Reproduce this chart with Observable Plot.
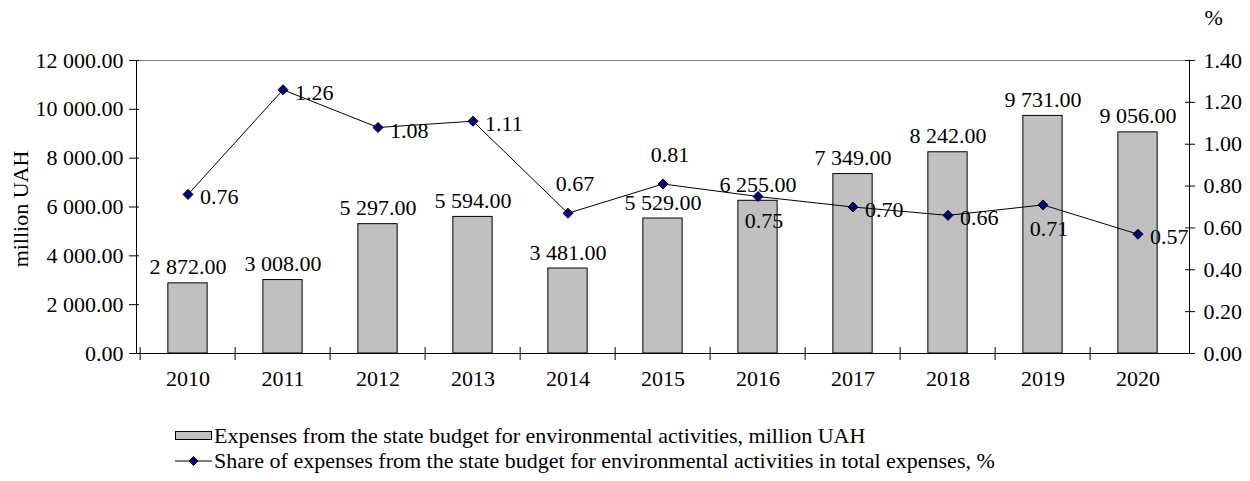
<!DOCTYPE html>
<html>
<head>
<meta charset="utf-8">
<script src="https://cdn.jsdelivr.net/npm/d3@7"></script>
<script src="https://cdn.jsdelivr.net/npm/@observablehq/plot@0.6"></script>
<style>
  html, body { margin: 0; padding: 0; background: #fff; }
  #wrap { position: relative; width: 1250px; height: 481px; font-family: "Liberation Serif", "Times New Roman", serif; color: #000; }
  #wrap svg { display: block; }
  .legend { position: absolute; left: 175px; top: 405px; font-size: 22px; line-height: 25px; }
  .legend .row { display: flex; align-items: center; height: 25px; white-space: nowrap; }
  .legend .row:first-child { margin-top: 18px; }
  .swatch-bar { width: 35px; height: 7px; background: #c0c0c0; border: 1px solid #000; margin-right: 2px; }
  .swatch-line { width: 37px; height: 12px; margin-right: 2px; }
</style>
</head>
<body>
<div id="wrap"></div>
<script>
// Years on the category axis
const years = ["2010", "2011", "2012", "2013", "2014", "2015", "2016", "2017", "2018", "2019", "2020"];
// Expenses from the state budget for environmental activities, million UAH
const expenses = [2872, 3008, 5297, 5594, 3481, 5529, 6255, 7349, 8242, 9731, 9056];
// Share of these expenses in total state budget expenses, %
const share = [0.76, 1.26, 1.08, 1.11, 0.67, 0.81, 0.75, 0.70, 0.66, 0.71, 0.57];
// Where each share label sits relative to its marker
const shareLabelSide = ["right", "right", "right", "right", "above", "above", "below", "right", "right", "below", "right"];
// Axis ticks
const leftTicks = [0, 2000, 4000, 6000, 8000, 10000, 12000];
const rightTicks = [0, 0.2, 0.4, 0.6, 0.8, 1.0, 1.2, 1.4];

const data = years.map((year, i) => ({year, expenses: expenses[i], share: share[i], side: shareLabelSide[i]}));

// Share (%) is drawn on the same y scale, stretched so 1.40 % lines up with 12 000
const yMax = 12000, shareMax = 1.4;
const k = yMax / shareMax;

const fmtUAH = d3.formatLocale({decimal: ".", thousands: " ", grouping: [3]}).format(",.2f");
const fmt2 = d3.format(".2f");

const W = 1250, H = 405;
const marginLeft = 136, marginRight = 61, marginTop = 60, marginBottom = 52;
const bandW = (W - marginLeft - marginRight) / years.length;
const barInset = (bandW - 40) / 2;
const font = 22;

const chart = Plot.plot({
  width: W,
  height: H,
  marginLeft, marginRight, marginTop, marginBottom,
  style: {fontFamily: '"Liberation Serif", "Times New Roman", serif', fontSize: font + "px", background: "#fff", color: "#000", overflow: "visible"},
  x: {domain: years, padding: 0, axis: null},
  y: {domain: [0, yMax], axis: null},
  marks: [
    // thin grey line along the top of the plot area
    Plot.ruleY([yMax], {stroke: "#808080", strokeWidth: 1}),
    // bars
    Plot.barY(data, {x: "year", y: "expenses", fill: "#c0c0c0", stroke: "#000", strokeWidth: 1, insetLeft: barInset, insetRight: barInset}),
    // axis lines
    Plot.frame({anchor: "left", stroke: "#000"}),
    Plot.frame({anchor: "right", stroke: "#000"}),
    Plot.frame({anchor: "bottom", stroke: "#000"}),
    // left axis (million UAH)
    Plot.axisY(leftTicks, {anchor: "left", label: null, tickSize: 7, tickPadding: 6, tickFormat: fmtUAH, fontSize: font, stroke: "#000"}),
    Plot.axisY(leftTicks, {anchor: "left", label: null, tickSize: -3, text: null, stroke: "#000"}),
    // right axis (%)
    Plot.axisY(rightTicks.map(v => v * k), {anchor: "right", label: null, tickSize: 5, tickPadding: 9, tickFormat: v => fmt2(v / k), fontSize: font, stroke: "#000"}),
    Plot.axisY(rightTicks.map(v => v * k), {anchor: "right", label: null, tickSize: -5, text: null, stroke: "#000"}),
    // category boundary ticks crossing the bottom axis
    Plot.axisX(years, {anchor: "bottom", label: null, tickSize: 13, dy: -6, dx: -bandW / 2, text: null, stroke: "#000"}),
    // year labels
    Plot.axisX(years, {anchor: "bottom", label: null, tickSize: 0, tickPadding: 17, fontSize: font}),
    // bar value labels
    Plot.text(data, {x: "year", y: "expenses", text: d => fmtUAH(d.expenses), dy: -16, fontSize: font, fill: "#000"}),
    // share line with diamond markers
    Plot.line(data, {x: "year", y: d => d.share * k, stroke: "#000", strokeWidth: 1}),
    Plot.dot(data, {x: "year", y: d => d.share * k, symbol: "diamond2", r: 4.5, fill: "#000080", stroke: "#000", strokeWidth: 1}),
    // share labels
    Plot.text(data.filter(d => d.side === "right"), {x: "year", y: d => d.share * k, text: d => fmt2(d.share), textAnchor: "start", dx: 12, dy: 3, fontSize: font, fill: "#000"}),
    Plot.text(data.filter(d => d.side === "above"), {x: "year", y: d => d.share * k, text: d => fmt2(d.share), dx: 7, dy: -29, fontSize: font, fill: "#000"}),
    Plot.text(data.filter(d => d.side === "below"), {x: "year", y: d => d.share * k, text: d => fmt2(d.share), dx: 6, dy: 24, fontSize: font, fill: "#000"}),
    // axis titles
    Plot.text(["million UAH"], {frameAnchor: "left", textAnchor: "middle", rotate: -90, dx: -116, dy: 2, fontSize: font, fill: "#000"}),
    Plot.text(["%"], {frameAnchor: "top-right", textAnchor: "start", lineAnchor: "middle", dx: 15, dy: -43, fontSize: font, fill: "#000"})
  ]
});

const wrap = document.getElementById("wrap");
wrap.appendChild(chart);

// Legend below the chart
const legend = document.createElement("div");
legend.className = "legend";
legend.innerHTML = `
  <div class="row"><div class="swatch-bar"></div><span>Expenses from the state budget for environmental activities, million UAH</span></div>
  <div class="row"><svg class="swatch-line" viewBox="0 0 37 12"><line x1="0" y1="6" x2="37" y2="6" stroke="#000" stroke-width="1"/><path d="M18.5 1.5 L23 6 L18.5 10.5 L14 6 Z" fill="#000080" stroke="#000" stroke-width="1"/></svg><span>Share of expenses from the state budget for environmental activities in total expenses, %</span></div>`;
wrap.appendChild(legend);
</script>
</body>
</html>
